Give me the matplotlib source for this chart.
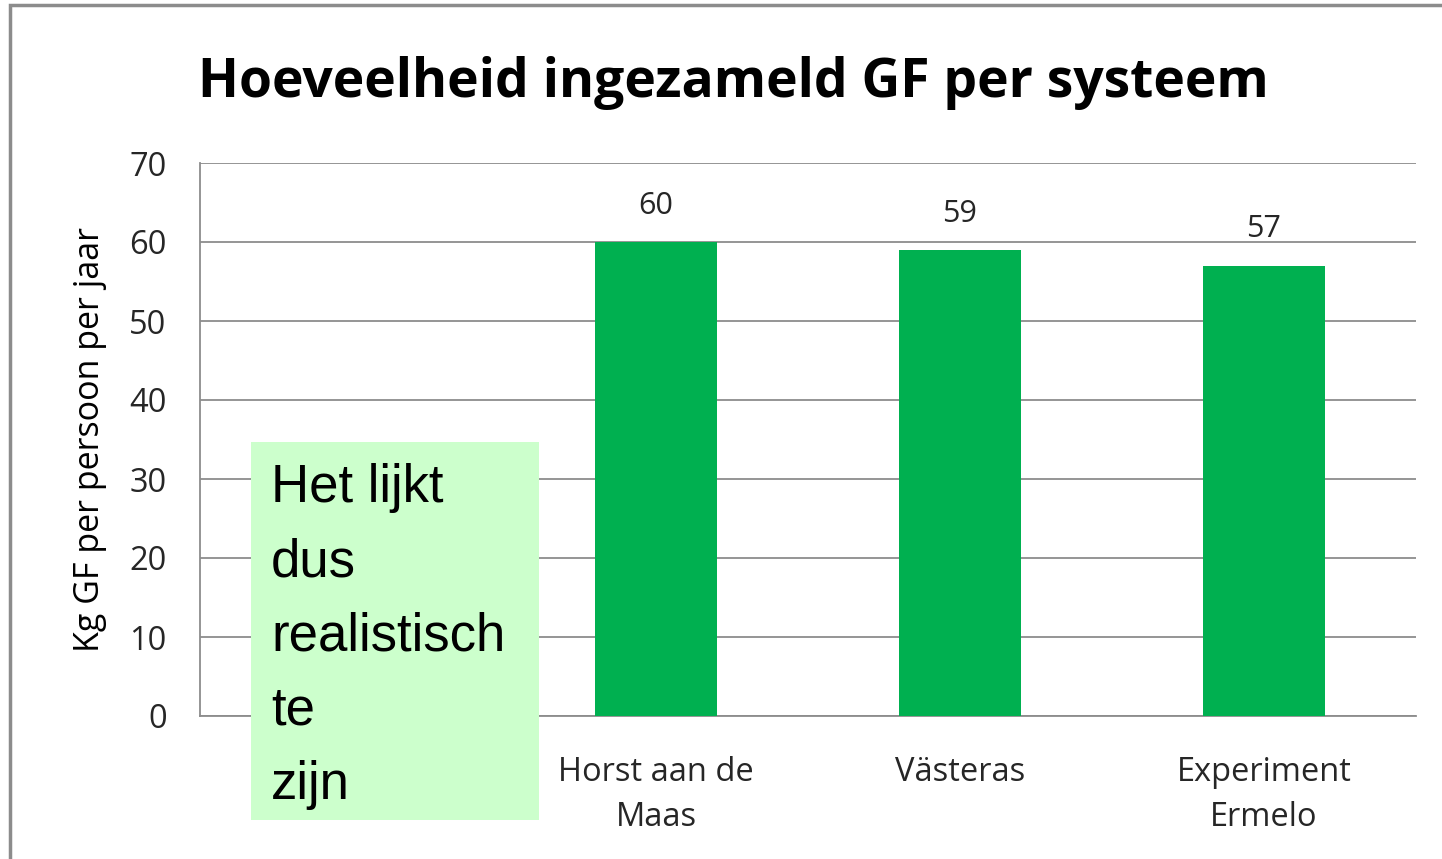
import matplotlib.pyplot as plt
from matplotlib.patches import Rectangle

categories = ["", "Horst aan de\nMaas", "Västeras", "Experiment\nErmelo"]
values = [None, 60, 59, 57]
yticks = [0, 10, 20, 30, 40, 50, 60, 70]

title = "Hoeveelheid ingezameld GF per systeem"
ylabel = "Kg GF per persoon per jaar"
note = "Het lijkt\ndus\nrealistisch\nte\nzijn"

fig = plt.figure(figsize=(14.42, 8.59), dpi=100)
ax = fig.add_axes([200 / 1442, 1 - 716 / 859, 1216 / 1442, 553 / 859])

font = "Open Sans"
xs = list(range(len(categories)))
for x, v in zip(xs, values):
    if v is None:
        continue
    ax.bar(x, v, width=0.4, color="#00B050", zorder=3)
    ax.text(x, v + 4.6, str(v), ha="center", va="center", fontsize=22,
            family=font, color="#262626")

ax.set_xlim(-0.5, len(categories) - 0.5)
ax.set_ylim(0, 70)
ax.set_yticks(yticks)
ax.set_yticklabels([str(t) for t in yticks], family=font, fontsize=23.5, color="#262626")
ax.set_xticks(xs)
ax.set_xticklabels(categories, family=font, fontsize=23.5, color="#262626", linespacing=1.45)
ax.tick_params(axis="y", length=0, pad=24)
ax.tick_params(axis="x", length=0, pad=29)
ax.grid(axis="y", color="#8c8c8c", linewidth=1.3, zorder=0)
for s in ["top", "right"]:
    ax.spines[s].set_visible(False)
for s in ["left", "bottom"]:
    ax.spines[s].set_color("#8c8c8c")
    ax.spines[s].set_linewidth(1.3)
ax.set_ylabel(ylabel, family=font, fontsize=24.5, color="black", va="center")
ax.yaxis.set_label_coords(-0.0905, 0.5)

fig.text(733 / 1442, 1 - 83 / 859, title, ha="center", va="center",
         family=font, fontweight="bold", fontsize=38.5, color="black")

# green note box over the first category
fig.patches.append(Rectangle((251 / 1442, 1 - 820 / 859), 288 / 1442, 378 / 859,
                             transform=fig.transFigure, facecolor="#CCFFCC",
                             edgecolor="none", zorder=5))
fig.text(271 / 1442, 1 - 463 / 859, note, ha="left", va="top",
         family="Liberation Sans", fontsize=38, color="black",
         linespacing=1.62, zorder=6)

# outer frame
fig.patches.append(Rectangle((10 / 1442, -0.01), 1.02, 1 - 5 / 859 + 0.01,
                             transform=fig.transFigure, facecolor="none",
                             edgecolor="#8c8c8c", linewidth=2.5))

fig.savefig("out.png", dpi=100)
